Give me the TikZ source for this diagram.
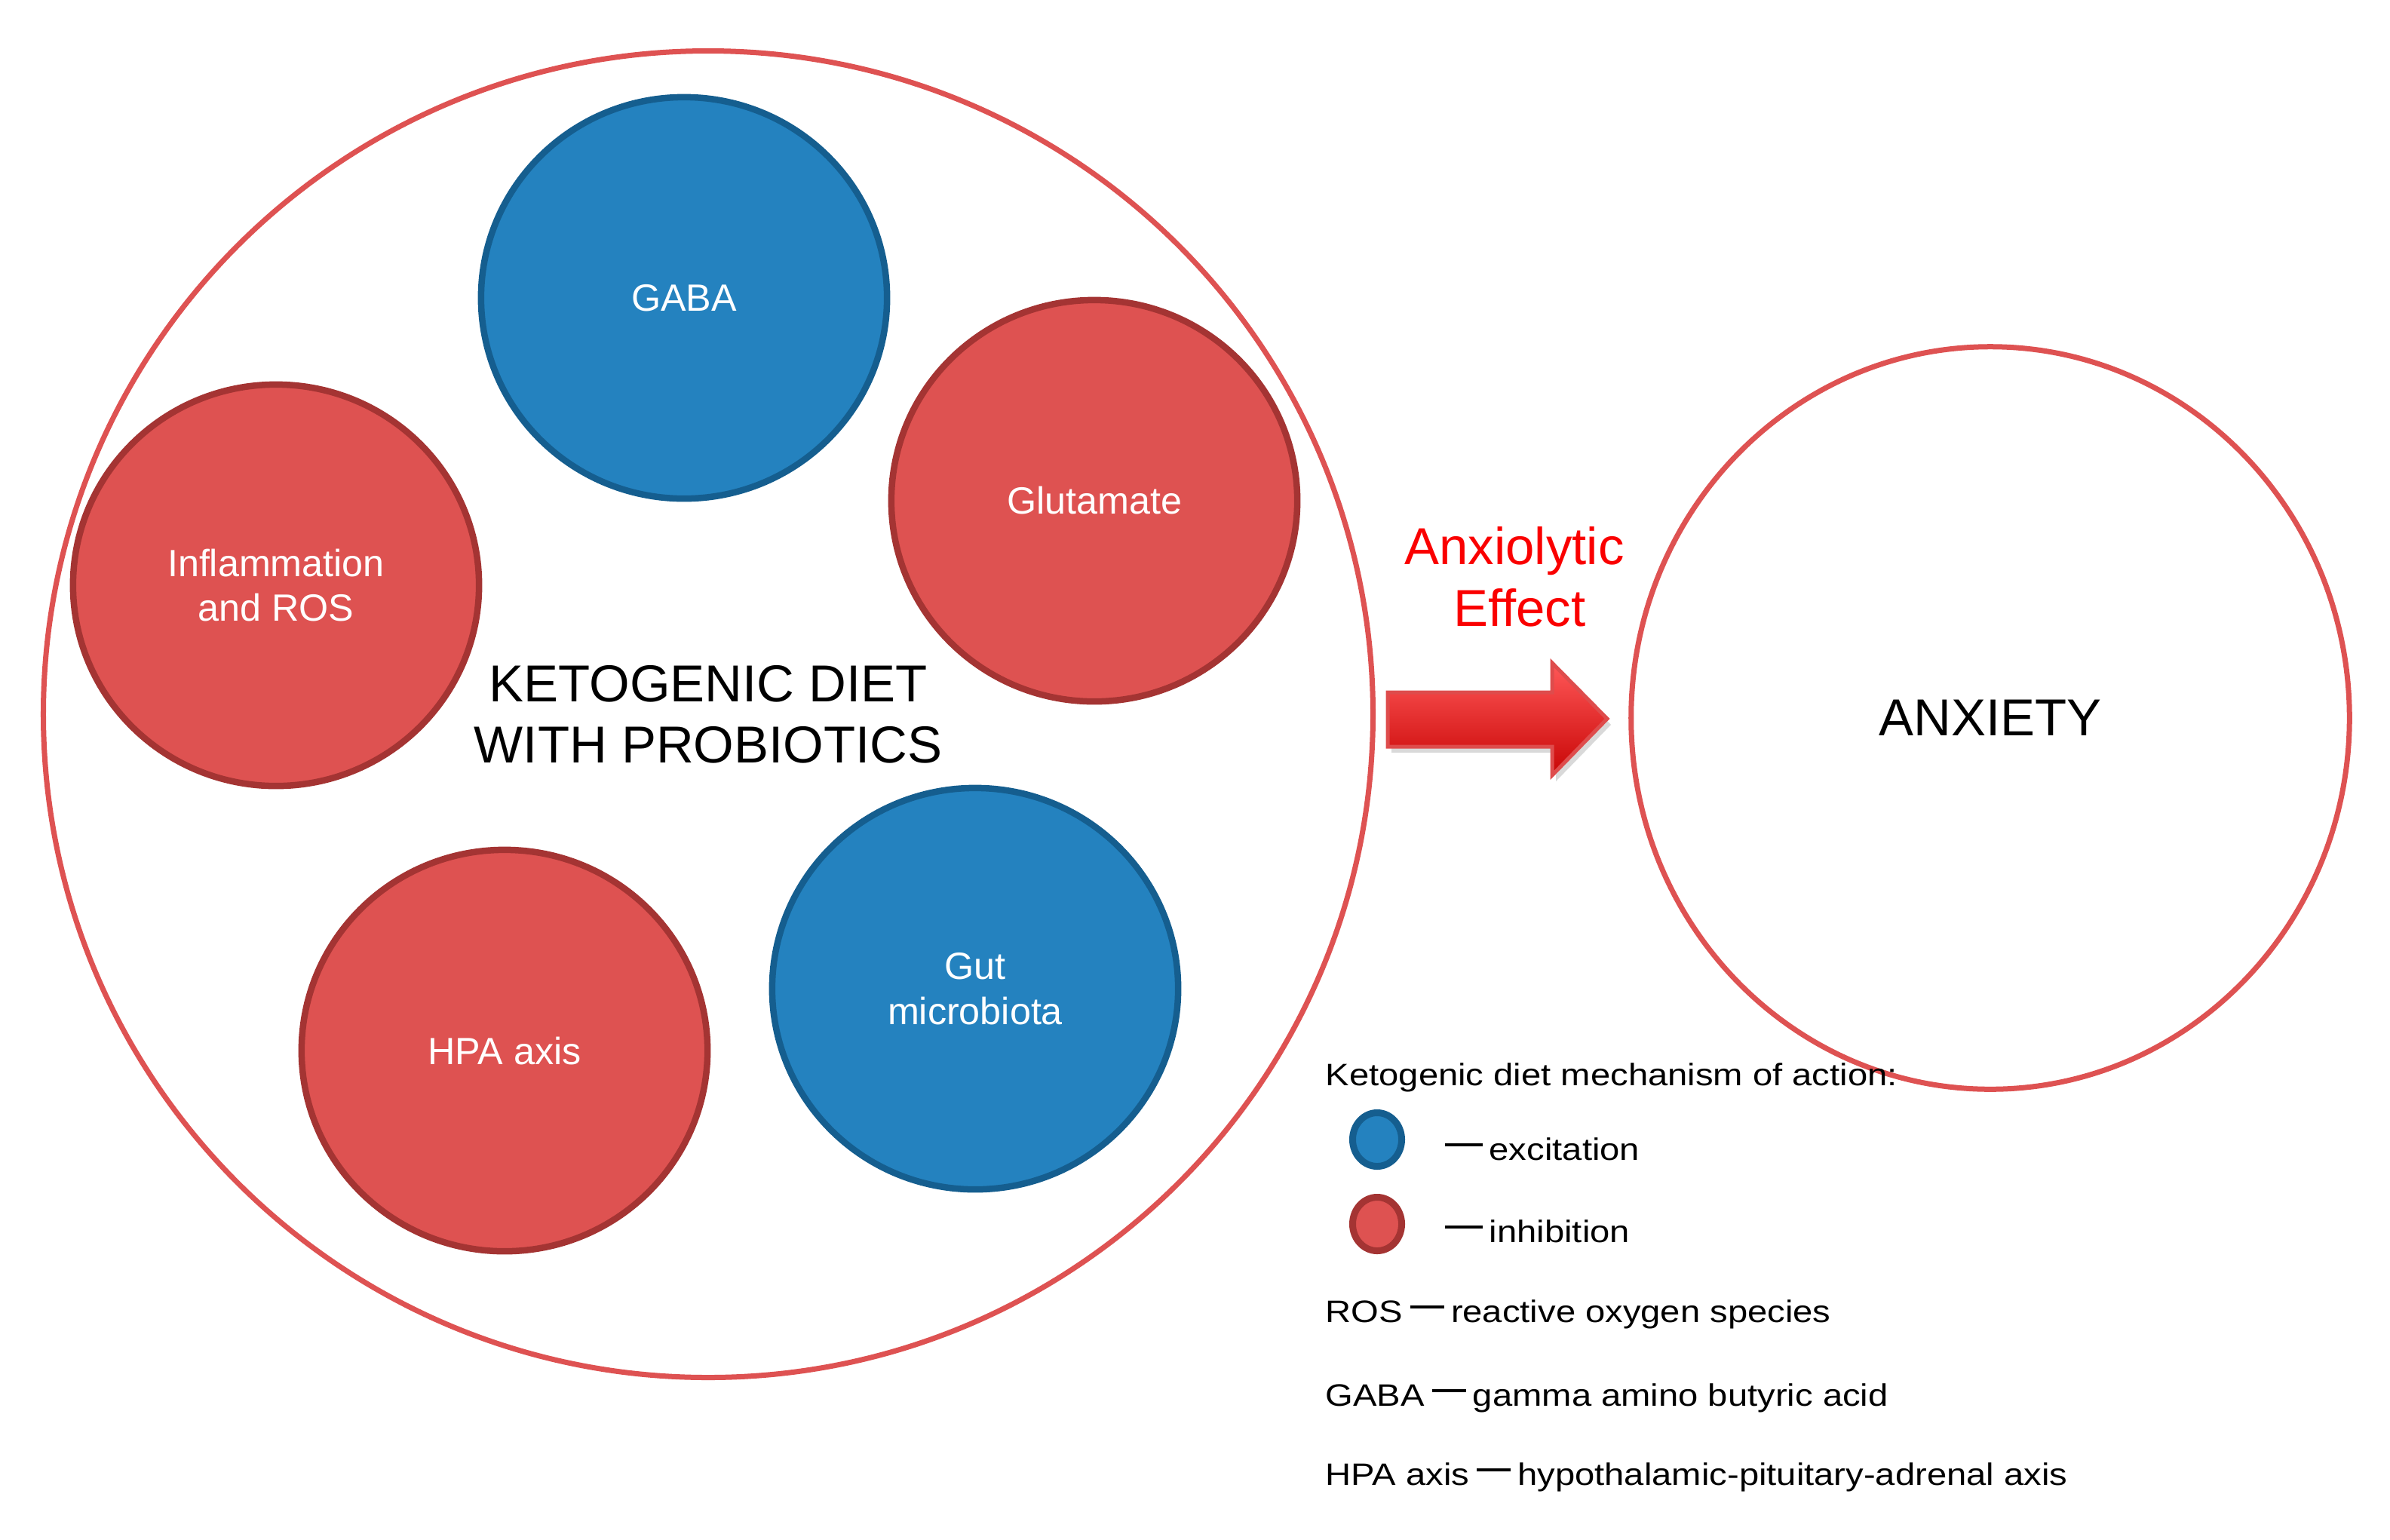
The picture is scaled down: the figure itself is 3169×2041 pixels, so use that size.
\documentclass[tikz,border=0pt]{standalone}
\usepackage{fontspec}
\setmainfont{Liberation Sans}
\newfontfamily\legendfont[FakeStretch=1.147]{Liberation Sans}
\usetikzlibrary{positioning,shapes.geometric,shadows}
\definecolor{KetoBlue}{RGB}{36,130,191}
\definecolor{KetoBlueEdge}{RGB}{21,94,143}
\definecolor{KetoRed}{RGB}{222,82,81}
\definecolor{KetoRedEdge}{RGB}{164,52,51}
\definecolor{KetoRing}{RGB}{222,82,82}
\definecolor{EffectRed}{RGB}{250,0,0}
\definecolor{ArrowTop}{RGB}{255,88,88}
\definecolor{ArrowMid}{RGB}{255,45,45}
\definecolor{ArrowBot}{RGB}{200,5,5}
\definecolor{ArrowEdge}{RGB}{222,76,76}
\newcommand{\legdash}[1]{\rule[0.44em]{#1}{0.04cm}\hspace{0.09cm}}

\begin{document}
\begin{tikzpicture}[
    x=0.01cm,y=-0.01cm,
    blob/.style={ellipse,minimum width=5.38cm,minimum height=5.32cm,line width=0.085cm,align=center,text=white,font=\fontsize{14.3pt}{17pt}\selectfont},
    excite/.style={blob,draw=KetoBlueEdge,fill=KetoBlue},
    inhibit/.style={blob,draw=KetoRedEdge,fill=KetoRed},
    ring/.style={ellipse,draw=KetoRing,line width=0.07cm,align=center,font=\fontsize{19.6pt}{23pt}\selectfont},
    dot/.style={ellipse,minimum width=0.65cm,minimum height=0.71cm,inner sep=0pt,line width=0.09cm},
    legend/.style={anchor=base west,inner sep=0pt,font=\legendfont\fontsize{11.7pt}{14pt}\selectfont},
    effectarrow/.style={draw=ArrowEdge,line width=0.05cm,top color=ArrowTop,middle color=ArrowMid,bottom color=ArrowBot,drop shadow={opacity=0.3,shadow xshift=0.05cm,shadow yshift=-0.08cm}}
  ]
    \useasboundingbox (0,0) rectangle (3169,2041);
    \node[ring,minimum width=17.62cm,minimum height=17.58cm] (diet) at (939,947) {KETOGENIC DIET\\WITH PROBIOTICS};
    \node[excite] (gaba) at (907,395) {GABA};
    \node[inhibit] (glutamate) at (1451,664) {Glutamate};
    \node[inhibit] (inflammation) at (366,776) {Inflammation\\and ROS};
    \node[inhibit] (hpa) at (669,1393) {HPA axis};
    \node[excite] (gut) at (1293,1311) {Gut\\microbiota};
    \node[ring,minimum width=9.52cm,minimum height=9.84cm] (anxiety) at (2639,952) {ANXIETY};
    \node[align=center,text=EffectRed,font=\fontsize{19.6pt}{23.2pt}\selectfont] (effectlabel) at (2008,765) {Anxiolytic\\\hspace*{0.14cm}Effect};
    \draw[effectarrow] (1840,918) -- (2058,918) -- (2058,879) -- (2131,953) -- (2058,1028) -- (2058,990) -- (1840,990) -- cycle;
    \node[legend] (legtitle) at (1757,1439) {Ketogenic diet mechanism of action:};
    \node[dot,draw=KetoBlueEdge,fill=KetoBlue] (bluedot) at (1826,1511) {};
    \node[legend] (excitation) at (1915,1538) {\legdash{0.5cm}excitation};
    \node[dot,draw=KetoRedEdge,fill=KetoRed] (reddot) at (1826,1623) {};
    \node[legend] (inhibition) at (1915,1647) {\legdash{0.5cm}inhibition};
    \node[legend] (ros) at (1757,1753) {ROS\hspace{0.1cm}\legdash{0.45cm}reactive oxygen species};
    \node[legend] (gabadef) at (1757,1864) {GABA\hspace{0.1cm}\legdash{0.45cm}gamma amino butyric acid};
    \node[legend] (hpadef) at (1757,1969) {HPA axis\hspace{0.1cm}\legdash{0.45cm}hypothalamic-pituitary-adrenal axis};
  \end{tikzpicture}
\end{document}
